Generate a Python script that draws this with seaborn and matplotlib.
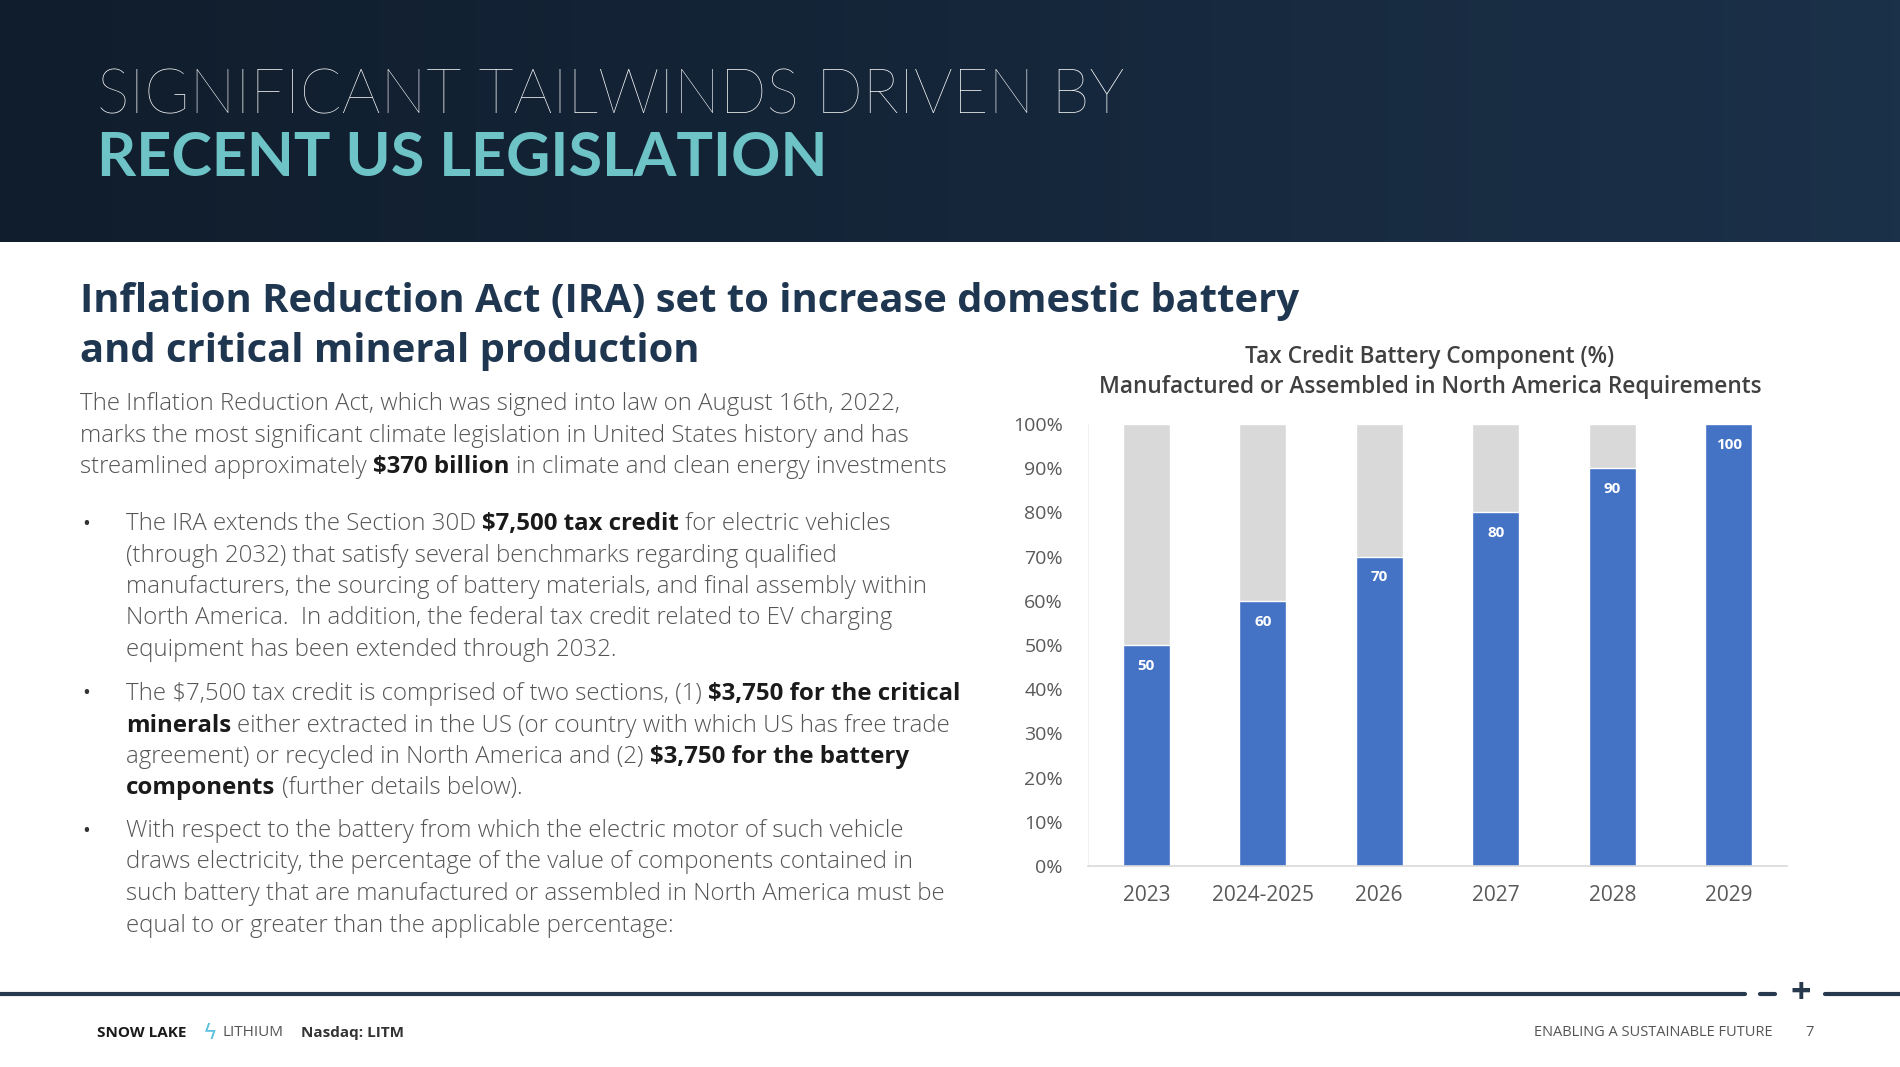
import numpy as np
import pandas as pd
import matplotlib
matplotlib.use('Agg')
import matplotlib.pyplot as plt
import seaborn as sns

# chart data
periods = ['2023', '2024-2025', '2026', '2027', '2028', '2029']
required_pct = [50, 60, 70, 80, 90, 100]
full_pct = [100, 100, 100, 100, 100, 100]
y_ticks = [0, 10, 20, 30, 40, 50, 60, 70, 80, 90, 100]

chart_title = 'Tax Credit Battery Component (%)\nManufactured or Assembled in North America Requirements'

# slide text
title_1 = 'SIGNIFICANT TAILWINDS DRIVEN BY'
title_2 = 'RECENT US LEGISLATION'
heading = ['Inflation Reduction Act (IRA) set to increase domestic battery',
           'and critical mineral production']
intro = [
    [('The Inflation Reduction Act, which was signed into law on August 16th, 2022,', False)],
    [('marks the most significant climate legislation in United States history and has', False)],
    [('streamlined approximately ', False), ('$370 billion', True), (' in climate and clean energy investments', False)],
]
bullets = [
    [[('The IRA extends the Section 30D ', False), ('$7,500 tax credit', True), (' for electric vehicles', False)],
     [('(through 2032) that satisfy several benchmarks regarding qualified', False)],
     [('manufacturers, the sourcing of battery materials, and final assembly within', False)],
     [('North America.  In addition, the federal tax credit related to EV charging', False)],
     [('equipment has been extended through 2032.', False)]],
    [[('The $7,500 tax credit is comprised of two sections, (1) ', False), ('$3,750 for the critical', True)],
     [('minerals', True), (' either extracted in the US (or country with which US has free trade', False)],
     [('agreement) or recycled in North America and (2) ', False), ('$3,750 for the battery', True)],
     [('components', True), (' (further details below).', False)]],
    [[('With respect to the battery from which the electric motor of such vehicle', False)],
     [('draws electricity, the percentage of the value of components contained in', False)],
     [('such battery that are manufactured or assembled in North America must be', False)],
     [('equal to or greater than the applicable percentage:', False)]],
]

W, H = 1900, 1067
sns.set_style('white')
plt.rcParams['font.family'] = ['Open Sans', 'DejaVu Sans']

fig = plt.figure(figsize=(W / 100, H / 100), dpi=100)
fig.patch.set_facecolor('white')


def fx(px):
    return px / W


def fy(py):
    return 1 - py / H


# header band with gradient
hdr = fig.add_axes([0, fy(242), 1, 242 / H])
grad = np.linspace(0, 1, 256).reshape(1, -1)
cmap = matplotlib.colors.LinearSegmentedColormap.from_list('hdr', ['#101d2c', '#15263a', '#1b3149'])
hdr.imshow(grad, aspect='auto', cmap=cmap, extent=[0, 1, 0, 1])
hdr.set_axis_off()

fig.text(fx(97), fy(96), title_1, fontsize=44, color='white', fontweight='light',
         va='center', ha='left', family=['Lato', 'DejaVu Sans'])
fig.text(fx(97), fy(158), title_2, fontsize=44, color='#6ec3c7', fontweight='bold',
         va='center', ha='left', family=['Lato', 'DejaVu Sans'])

# heading
fig.text(fx(80), fy(302), heading[0], fontsize=28.8, color='#1f3650', fontweight='bold', va='center')
fig.text(fx(80), fy(352), heading[1], fontsize=28.8, color='#1f3650', fontweight='bold', va='center')

renderer = fig.canvas.get_renderer()
body_size = 17.3
body_color = '#555555'


def text_width(s, bold):
    t = fig.text(0, 0, s, fontsize=body_size, fontweight='bold' if bold else 'light')
    w = t.get_window_extent(renderer).width
    t.remove()
    return w


space_w = {b: text_width('a a', b) - text_width('aa', b) for b in (False, True)}


def draw_runs(x, y, runs):
    cur = x
    for s, bold in runs:
        lead = len(s) - len(s.lstrip(' '))
        cur += lead * space_w[bold]
        core = s.strip(' ')
        t = fig.text(fx(cur), fy(y), core, fontsize=body_size,
                     fontweight='bold' if bold else 'light',
                     color='#1a1a1a' if bold else body_color, va='center', ha='left')
        cur += t.get_window_extent(renderer).width
        trail = len(s) - len(s.rstrip(' '))
        cur += trail * space_w[bold]


for i, line in enumerate(intro):
    draw_runs(80, 404 + i * 31.5, line)

bullet_starts = [524, 694, 831]
for start, lines in zip(bullet_starts, bullets):
    fig.text(fx(82), fy(start), '•', fontsize=15, color='#333333', va='center', ha='left')
    for i, line in enumerate(lines):
        draw_runs(126, start + i * 31.5, line)

# bar chart
ax = fig.add_axes([fx(1088), fy(866), (1787 - 1088) / W, (866 - 424) / H])
df = pd.DataFrame({'period': periods, 'required': required_pct, 'full': full_pct})
sns.barplot(data=df, x='period', y='full', color='#d9d9d9', width=0.4, ax=ax, saturation=1)
sns.barplot(data=df, x='period', y='required', color='#4472c4', width=0.4, ax=ax, saturation=1)

for cont in ax.containers[1:]:
    for bar, v in zip(cont, required_pct):
        ax.annotate(str(v), (bar.get_x() + bar.get_width() / 2, v), xytext=(0, -15),
                    textcoords='offset points', ha='center', va='center',
                    color='white', fontsize=11, fontweight='bold')

ax.set_ylim(0, 100)
ax.set_xlim(-0.5, 5.5)
ax.set_yticks(y_ticks)
ax.set_yticklabels([f'{t}%' for t in y_ticks])
ax.set_xlabel('')
ax.set_ylabel('')
ax.tick_params(axis='y', labelsize=14, labelcolor='#595959', length=0, pad=18)
ax.tick_params(axis='x', labelsize=15, labelcolor='#595959', length=0, pad=14)
for side in ['top', 'right']:
    ax.spines[side].set_visible(False)
ax.spines['left'].set_color('#f0f0f0')
ax.spines['bottom'].set_color('#d9d9d9')
ax.spines['bottom'].set_linewidth(1.2)
ax.set_facecolor('white')

fig.text(fx(1430), fy(372), chart_title, fontsize=16.3, color='#404040', fontweight='semibold',
         ha='center', va='center', linespacing=1.3)

# footer
fig.add_artist(matplotlib.lines.Line2D([0, fx(1745)], [fy(994), fy(994)], color='#26394d', lw=3))
fig.add_artist(matplotlib.lines.Line2D([fx(1760), fx(1775)], [fy(994), fy(994)], color='#26394d', lw=3))
fig.add_artist(matplotlib.lines.Line2D([fx(1825), 1], [fy(994), fy(994)], color='#26394d', lw=3))
fig.text(fx(1801), fy(994), '+', fontsize=26, color='#26394d', ha='center', va='center', fontweight='bold')

fig.text(fx(97), fy(1033), 'SNOW LAKE', fontsize=11, fontweight='bold', color='#1a1a1a', va='center')
fig.text(fx(203), fy(1033), 'ϟ', fontsize=16, color='#5bc0de', va='center', family=['DejaVu Sans'])
fig.text(fx(223), fy(1033), 'LITHIUM', fontsize=11, color='#555555', va='center')
fig.text(fx(301), fy(1033), 'Nasdaq: LITM', fontsize=11, fontweight='bold', color='#333333', va='center')
fig.text(fx(1773), fy(1033), 'ENABLING A SUSTAINABLE FUTURE', fontsize=10.5, color='#555555',
         ha='right', va='center')
fig.text(fx(1810), fy(1033), '7', fontsize=10.5, color='#555555', ha='center', va='center')

fig.savefig('out.png', dpi=100, facecolor='white')
